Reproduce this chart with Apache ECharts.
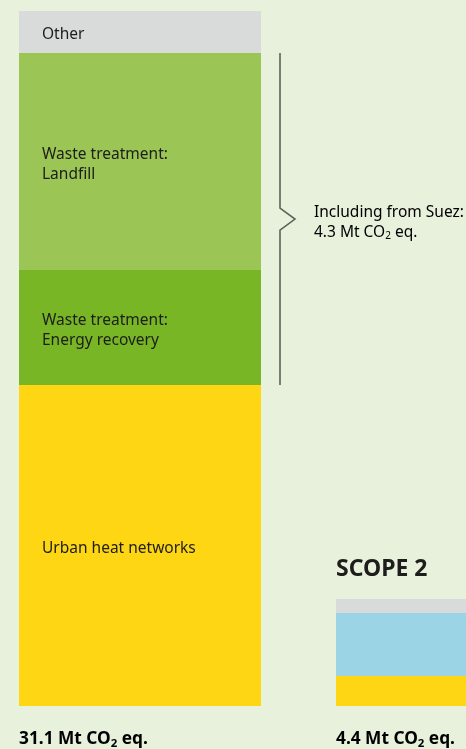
<!DOCTYPE html>
<html>
<head>
<meta charset="utf-8">
<script src="https://cdn.jsdelivr.net/npm/echarts@6/dist/echarts.min.js"></script>
<style>
  html, body { margin: 0; padding: 0; background: #e7f1dc; }
  #chart { width: 466px; height: 749px; }
</style>
</head>
<body>
<div id="chart"></div>
<script>
// two stacked columns, values in Mt CO2 eq. (bottom layer first)
const categories = ['Scope 1', 'Scope 2']
const totals = ['31.1', '4.4']
const heatValues = [14.36, 1.34]
const middleValues = [5.15, 2.82]
const upperValues = [9.71, 0.63]
const otherValues = [1.88, '-']

const heatLabels = ['Urban heat networks', '']
const middleLabels = ['Waste treatment:\nEnergy recovery', '']
const upperLabels = ['Waste treatment:\nLandfill', '']
const otherLabels = ['Other', '']

const suezText = ['Including from Suez:', '4.3 Mt CO']
const scope2Title = 'SCOPE 2'

const FONT = '"Noto Sans", sans-serif'
const TEXT = '#1d1d1b'

const chartDom = document.getElementById('chart')
const myChart = echarts.init(chartDom, null, { renderer: 'canvas' })

const mkSeries = (name, values, labels, colors) => ({
  name: name,
  type: 'bar',
  stack: 'total',
  barWidth: 242,
  clip: false,
  data: values.map((v, i) => ({ value: v, itemStyle: { color: colors[i] } })),
  label: {
    show: true,
    position: 'insideLeft',
    distance: 23,
    offset: [0, 3],
    color: TEXT,
    fontFamily: FONT,
    fontSize: 15.5,
    lineHeight: 20,
    formatter: (p) => labels[p.dataIndex],
  },
  emphasis: { disabled: true },
})

const option = {
  backgroundColor: '#e7f1dc',
  animation: false,
  // column centres sit on the grid edges (boundaryGap off)
  grid: { left: 140, right: 9, top: 11, bottom: 43 },
  xAxis: {
    type: 'category',
    data: categories,
    boundaryGap: false,
    show: false,
  },
  yAxis: {
    type: 'value',
    min: 0,
    max: 31.1,
    show: false,
  },
  series: [
    mkSeries('heat', heatValues, heatLabels, ['#fed614', '#fed614']),
    mkSeries('middle', middleValues, middleLabels, ['#78b626', '#9bd5e5']),
    mkSeries('upper', upperValues, upperLabels, ['#9bc554', '#d9dada']),
    mkSeries('other', otherValues, otherLabels, ['#d9dada', '#d9dada']),
  ],
}

myChart.setOption(option)

// annotations placed from the axes
const px = (i, v) => myChart.convertToPixel({ gridIndex: 0 }, [i, v])
const barLeft = (i) => px(i, 0)[0] - 121
const barRight = (i) => px(i, 0)[0] + 121
const baseY = px(0, 0)[1]
const yTop = px(0, heatValues[0] + middleValues[0] + upperValues[0])[1]
const yBot = px(0, heatValues[0])[1]
const xLine = barRight(0) + 19
const yMid = (yTop + yBot) / 2

const richCO2 = (size) => ({
  b: { fontFamily: FONT, fontSize: size, fontWeight: 'bold', color: TEXT },
  s: { fontFamily: FONT, fontSize: size * 0.66, fontWeight: 'bold', color: TEXT, padding: [9, 0, 0, 0] },
})

const graphics = [
  {
    type: 'polyline',
    shape: {
      points: [
        [xLine, yTop], [xLine, yMid - 11], [xLine + 15, yMid],
        [xLine, yMid + 11], [xLine, yBot],
      ],
    },
    style: { stroke: '#5d6356', lineWidth: 1.6, fill: null },
  },
  {
    type: 'text',
    x: xLine + 34,
    y: yMid + 4,
    style: {
      text: '{n|' + suezText[0] + '}\n{n|' + suezText[1] + '}{s|2}{n| eq.}',
      verticalAlign: 'middle',
      rich: {
        n: { fontFamily: FONT, fontSize: 15.5, color: TEXT, lineHeight: 20 },
        s: { fontFamily: FONT, fontSize: 10, color: TEXT, lineHeight: 20, padding: [7, 0, 0, 0] },
      },
    },
  },
  {
    type: 'text',
    x: barLeft(1),
    y: 569,
    style: {
      text: scope2Title,
      font: 'bold 23px ' + FONT,
      fill: TEXT,
      verticalAlign: 'middle',
    },
  },
]

totals.forEach((t, i) => {
  graphics.push({
    type: 'text',
    x: barLeft(i),
    y: baseY + 33,
    style: {
      text: '{b|' + t + ' Mt CO}{s|2}{b| eq.}',
      verticalAlign: 'middle',
      rich: richCO2(17.3),
    },
  })
})

myChart.setOption({ graphic: graphics })
</script>
</body>
</html>
